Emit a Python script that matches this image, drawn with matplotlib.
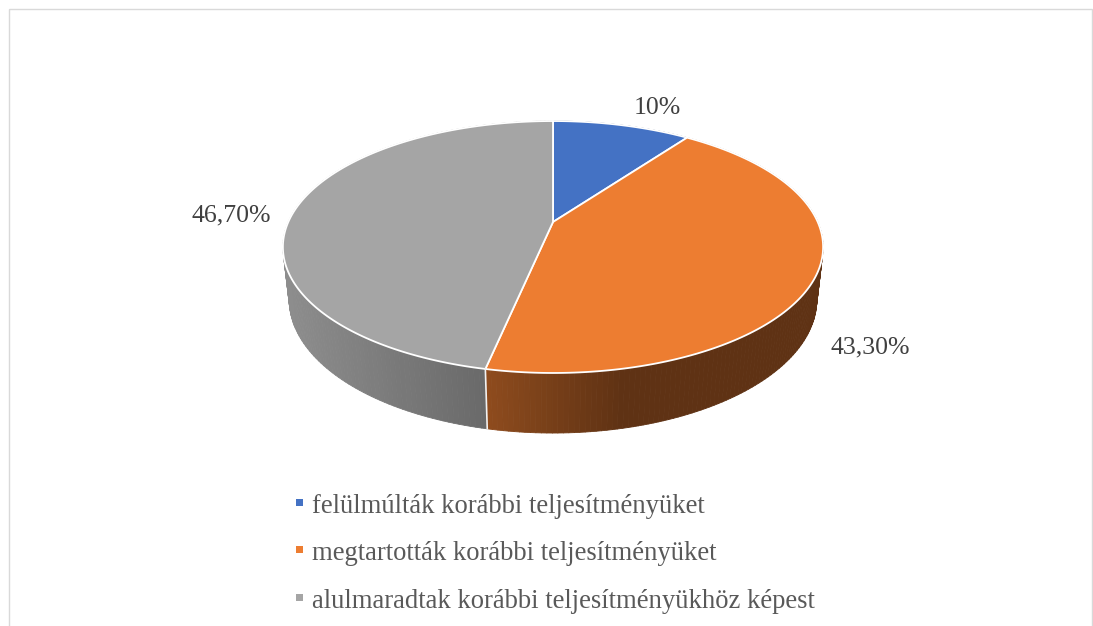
"""
3D pie chart of performance change shares (Excel style), drawn with matplotlib.
"""

import numpy as np
import matplotlib.pyplot as plt
from matplotlib.collections import PolyCollection
from matplotlib.patches import Polygon, Rectangle


categories = [
    "felülmúlták korábbi teljesítményüket",
    "megtartották korábbi teljesítményüket",
    "alulmaradtak korábbi teljesítményükhöz képest",
]
shares = [10.0, 43.3, 46.7]
share_labels = ["10%", "43,30%", "46,70%"]

COLORS = ["#4472C4", "#ED7D31", "#A5A5A5"]
# side shading: (light factor, dark factor, part of the side width used for the ramp)
SIDE_SHADE = [(0.60, 0.40, 1.0), (0.60, 0.40, 0.40), (0.86, 0.64, 1.0)]
# label offsets from the projected slice mid point on the rim (pixels)
LABEL_SHIFT = [(35, -11), (54, 78), (-64, 12)]

FONT = "Liberation Serif"
TEXT_COLOR = "#404040"
LEGEND_COLOR = "#595959"

# camera for the perspective view (unit disk, image pixels)
CX, CY = 553.0, 222.0
BETA = np.radians(27.2)
DIST = 4.48
FOCAL = 1186.0
THICK = 0.225


def project(x, y, z):
    """Project world points (x right, y away, z up) to image pixels."""
    cb, sb = np.cos(BETA), np.sin(BETA)
    dy = y + DIST * cb
    dz = z - DIST * sb
    depth = dy * cb - dz * sb
    yc = dy * sb + dz * cb
    return CX + FOCAL * x / depth, CY - FOCAL * yc / depth


def rim(phi_deg, z=0.0, r=1.0):
    phi = np.radians(phi_deg)
    return project(r * np.sin(phi), r * np.cos(phi), z)


def shade(color, factor):
    rgb = np.array(plt.matplotlib.colors.to_rgb(color))
    return tuple(rgb * factor)


fig = plt.figure(figsize=(10.93, 6.26), dpi=100)
ax = fig.add_axes([0, 0, 1, 1])
ax.set_xlim(0, 1093)
ax.set_ylim(626, 0)
ax.axis("off")

# chart area border
ax.add_patch(Rectangle((8.5, 8.5), 1083, 700, fill=False,
                       edgecolor="#D9D9D9", linewidth=1.0))

bounds = np.concatenate([[0], np.cumsum(shares)]) / sum(shares) * 360.0
cam = np.array([0.0, -DIST * np.cos(BETA), DIST * np.sin(BETA)])

# side walls
quads, quad_colors, quad_depth = [], [], []
for i, color in enumerate(COLORS):
    phis = np.linspace(bounds[i], bounds[i + 1], 160)
    mids = (phis[:-1] + phis[1:]) / 2
    normals = np.stack([np.sin(np.radians(mids)), np.cos(np.radians(mids)),
                        np.zeros_like(mids)], axis=1)
    facing = np.einsum("ij,ij->i", normals, cam - normals) > 0
    tx, ty = rim(phis)
    bx, by = rim(phis, z=-THICK)
    mx, _ = rim(mids)
    if facing.any():
        x_lo, x_hi = mx[facing].min(), mx[facing].max()
    else:
        x_lo, x_hi = mx.min(), mx.max()
    light, dark, ramp = SIDE_SHADE[i]
    for k in range(len(mids)):
        t = np.clip((mx[k] - x_lo) / max(x_hi - x_lo, 1) / ramp, 0, 1)
        quads.append([(tx[k], ty[k]), (tx[k + 1], ty[k + 1]),
                      (bx[k + 1], by[k + 1]), (bx[k], by[k])])
        quad_colors.append(shade(color, light + (dark - light) * t))
        quad_depth.append(np.cos(np.radians(mids[k])))

order = np.argsort(quad_depth)[::-1]
ax.add_collection(PolyCollection(
    [quads[k] for k in order],
    facecolors=[quad_colors[k] for k in order],
    edgecolors=[quad_colors[k] for k in order],
    linewidths=0.6,
))

# white seams on the visible side where slices meet
for b in bounds[1:-1]:
    if np.cos(np.radians(b)) < 0:
        tx, ty = rim(b)
        bx, by = rim(b, z=-THICK)
        ax.plot([tx, bx], [ty, by], color="#F2F2F2", linewidth=1.2)

# top faces
for i, color in enumerate(COLORS):
    phis = np.linspace(bounds[i], bounds[i + 1], 200)
    px, py = rim(phis)
    cx0, cy0 = project(0.0, 0.0, 0.0)
    pts = np.column_stack([np.r_[cx0, px], np.r_[cy0, py]])
    ax.add_patch(Polygon(pts, closed=True, facecolor=color,
                         edgecolor="white", linewidth=1.3, joinstyle="round"))

# data labels
for i, text in enumerate(share_labels):
    mid = (bounds[i] + bounds[i + 1]) / 2
    lx, ly = rim(mid)
    ax.text(lx + LABEL_SHIFT[i][0], ly + LABEL_SHIFT[i][1], text,
            ha="center", va="baseline", fontsize=18.5,
            family=FONT, color=TEXT_COLOR)

# legend
for i, (name, color) in enumerate(zip(categories, COLORS)):
    base = 513 + 47.3 * i
    ax.add_patch(Rectangle((296, base - 14), 7, 7, facecolor=color,
                           edgecolor="none"))
    ax.text(312, base, name, ha="left", va="baseline", fontsize=19.2,
            family=FONT, color=LEGEND_COLOR)

fig.savefig("out.png", dpi=100, facecolor="white")
